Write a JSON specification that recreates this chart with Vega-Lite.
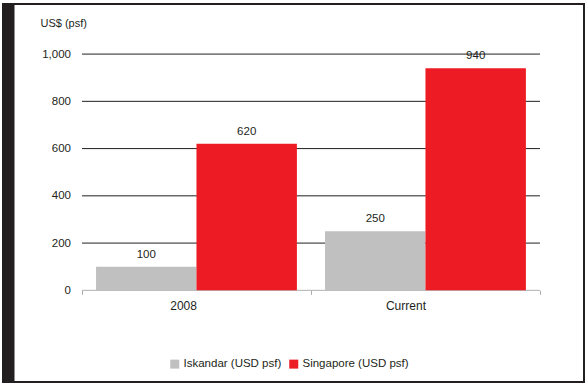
{
  "$schema": "https://vega.github.io/schema/vega-lite/v6.json",
  "width": 581,
  "height": 378,
  "autosize": {"type": "none"},
  "padding": {"left": 3, "top": 4, "right": 2, "bottom": 4},
  "background": "white",
  "config": {
    "font": "Liberation Sans",
    "view": {"stroke": "#231f20", "strokeWidth": 2, "fill": "white"}
  },
  "datasets": {
    "bars": [
      {"period": "2008", "series": "Iskandar (USD psf)", "value": 100},
      {"period": "2008", "series": "Singapore (USD psf)", "value": 620},
      {"period": "Current", "series": "Iskandar (USD psf)", "value": 250},
      {"period": "Current", "series": "Singapore (USD psf)", "value": 940}
    ],
    "grid": [
      {"level": 200}, {"level": 400}, {"level": 600}, {"level": 800}, {"level": 1000}
    ]
  },
  "layer": [
    {
      "data": {"name": "grid"},
      "mark": {"type": "rule", "color": "#231f20", "strokeWidth": 1},
      "encoding": {
        "y": {"field": "level", "type": "quantitative"},
        "x": {"datum": "2008", "type": "nominal", "bandPosition": 0},
        "x2": {"datum": "Current", "bandPosition": 1}
      }
    },
    {
      "data": {"values": [{"level": 0}]},
      "mark": {"type": "rule", "color": "#b0b0b0", "strokeWidth": 1},
      "encoding": {
        "y": {"field": "level", "type": "quantitative"},
        "x": {"datum": "2008", "type": "nominal", "bandPosition": 0},
        "x2": {"datum": "Current", "bandPosition": 1}
      }
    },
    {
      "data": {"name": "bars"},
      "mark": {"type": "bar"},
      "encoding": {
        "x": {
          "field": "period",
          "type": "nominal",
          "scale": {"domain": ["2008", "Current"], "paddingInner": 0, "paddingOuter": 0.2686, "align": 0.642},
          "axis": {
            "title": null,
            "orient": "bottom",
            "offset": -91.7,
            "domain": false,
            "ticks": true,
            "tickBand": "extent",
            "tickColor": "#aaaaaa",
            "tickSize": 4,
            "labelPadding": 11,
            "labelFontSize": 12,
            "labelColor": "#231f20",
            "labelAngle": 0,
            "grid": false
          }
        },
        "xOffset": {
          "field": "series",
          "type": "nominal",
          "sort": ["Iskandar (USD psf)", "Singapore (USD psf)"],
          "scale": {"paddingOuter": 0.14, "paddingInner": 0}
        },
        "y": {
          "field": "value",
          "type": "quantitative",
          "scale": {"domain": [-388, 1212], "nice": false, "zero": false},
          "axis": {
            "title": "US$ (psf)",
            "titleAngle": 0,
            "titleAlign": "left",
            "titleBaseline": "middle",
            "titleX": 31.5,
            "titleY": 19,
            "titleFontSize": 11,
            "titleFontWeight": "normal",
            "titleColor": "#231f20",
            "values": [0, 200, 400, 600, 800, 1000],
            "format": ",.0f",
            "domain": true,
            "domainColor": "#231f20",
            "domainWidth": 11,
            "domainCap": "butt",
            "offset": -5.5,
            "ticks": false,
            "tickSize": 0,
            "labelPadding": -62,
            "labelAlign": "right",
            "labelBaseline": "middle",
            "labelFontSize": 11.5,
            "labelColor": "#231f20",
            "grid": false
          }
        },
        "color": {
          "field": "series",
          "type": "nominal",
          "scale": {"domain": ["Iskandar (USD psf)", "Singapore (USD psf)"], "range": ["#c0c0c0", "#ed1c24"]},
          "legend": {
            "orient": "none",
            "legendX": 166,
            "legendY": 354,
            "direction": "horizontal",
            "title": null,
            "symbolType": "square",
            "symbolSize": 81,
            "symbolStrokeWidth": 0,
            "symbolOpacity": 1,
            "labelFontSize": 11.5,
            "labelOffset": 3,
            "columnPadding": 6,
            "labelColor": "#231f20"
          }
        }
      }
    },
    {
      "data": {"name": "bars"},
      "mark": {"type": "text", "baseline": "alphabetic", "dy": -9, "fontSize": 11.5, "color": "#231f20"},
      "encoding": {
        "x": {"field": "period", "type": "nominal"},
        "xOffset": {"field": "series", "type": "nominal", "sort": ["Iskandar (USD psf)", "Singapore (USD psf)"]},
        "y": {"field": "value", "type": "quantitative"},
        "text": {"field": "value", "type": "quantitative"}
      }
    }
  ]
}
